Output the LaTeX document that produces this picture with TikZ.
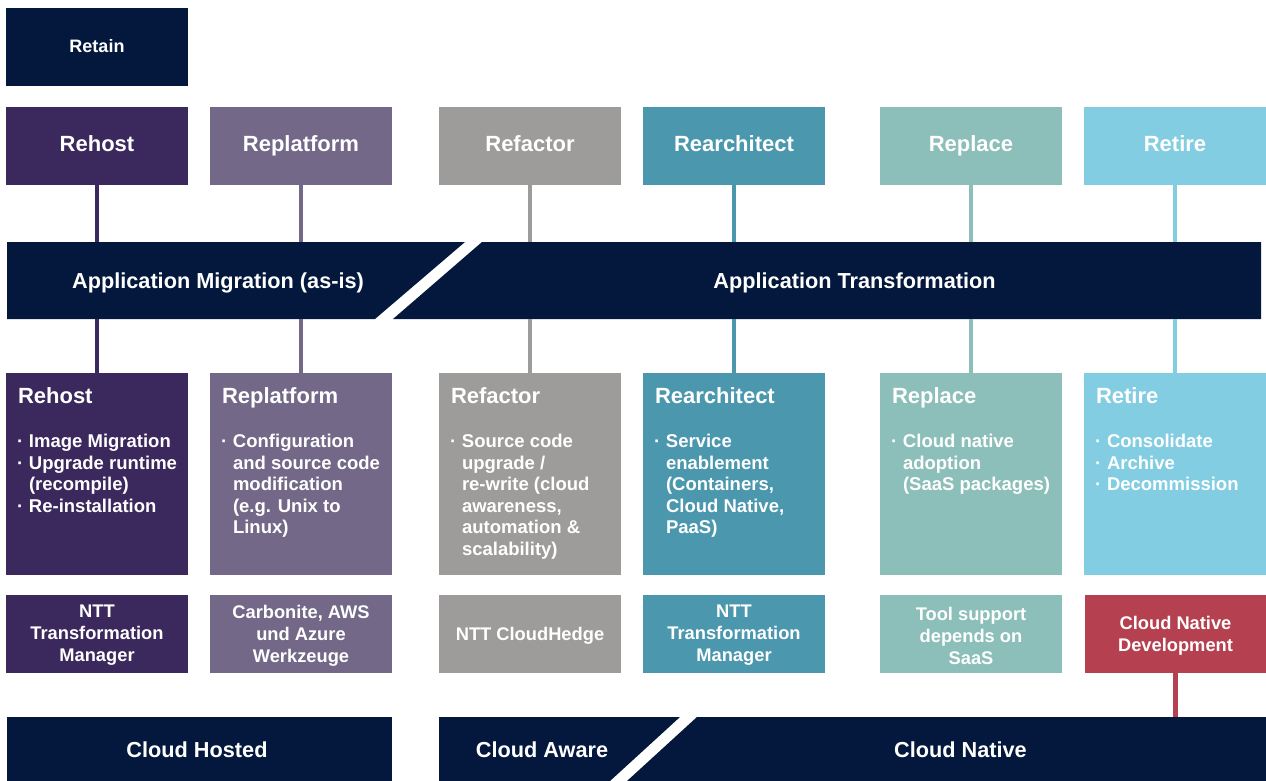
\documentclass[tikz,border=0pt]{standalone}
\usepackage{fontspec}
\setmainfont{Liberation Sans}
\usetikzlibrary{calc}
\definecolor{navy}{RGB}{3,24,60}
\definecolor{cA}{RGB}{59,40,92}
\definecolor{cB}{RGB}{115,104,136}
\definecolor{cC}{RGB}{157,156,154}
\definecolor{cD}{RGB}{75,151,174}
\definecolor{cE}{RGB}{140,191,185}
\definecolor{cF}{RGB}{131,205,227}
\definecolor{cRed}{RGB}{181,65,80}
\newcommand\bulitem{\makebox[12pt][l]{·}}
\newcommand\bulind{\hspace*{12pt}}
\begin{document}
\begin{tikzpicture}[x=1pt,y=-1pt,
  box/.style={rectangle, inner sep=0pt, minimum width=182pt, minimum height=78pt, text=white, font=\bfseries\fontsize{22}{26}\selectfont, align=center, text height=15.2pt, text depth=3.8pt},
  detail/.style={rectangle, inner sep=0pt, minimum width=182pt, minimum height=202pt},
  tool/.style={rectangle, inner sep=0pt, minimum width=182pt, minimum height=78pt},
  tooltext/.style={inner sep=0pt, text=white, align=center, font=\bfseries\fontsize{18.3}{22}\selectfont},
  dtitle/.style={anchor=base west, inner sep=0pt, text=white, font=\bfseries\fontsize{22}{26}\selectfont},
  dtext/.style={anchor=north west, inner sep=0pt, text=white, align=left, font=\bfseries\fontsize{18.5}{21.5}\selectfont},
  conn/.style={line width=4.5pt},
  bandtext/.style={text=white, inner sep=0pt, font=\bfseries\fontsize{21.7}{26}\selectfont, text height=15.6pt, text depth=0pt}
]
\useasboundingbox (0,0) rectangle (1266,781);

% Retain
\node[box, fill=navy, font=\bfseries\fontsize{18}{22}\selectfont, text height=13.5pt, text depth=3pt] (retain) at (97,47) {Retain};

% top boxes
\node[box, fill=cA] (t1) at (97,146) {Rehost};
\node[box, fill=cB] (t2) at (301,146) {Replatform};
\node[box, fill=cC] (t3) at (530,146) {Refactor};
\node[box, fill=cD] (t4) at (734,146) {Rearchitect};
\node[box, fill=cE] (t5) at (971,146) {Replace};
\node[box, fill=cF] (t6) at (1175,146) {Retire};

% band
\node[rectangle, inner sep=0pt, minimum width=1254pt, minimum height=77pt] (band) at (634,280.5) {};
\fill[navy] (7,242) -- (465,242) -- (375,319) -- (7,319) -- cycle;
\fill[navy] (482,242) -- (1261,242) -- (1261,319) -- (393,319) -- cycle;
\node[bandtext] (bandL) at (218,280.5) {Application Migration (as-is)};
\node[bandtext] (bandR) at (854.5,280.5) {Application Transformation};

% detail boxes
\node[detail, fill=cA] (d1) at (97,474) {};
\node[detail, fill=cB] (d2) at (301,474) {};
\node[detail, fill=cC] (d3) at (530,474) {};
\node[detail, fill=cD] (d4) at (734,474) {};
\node[detail, fill=cE] (d5) at (971,474) {};
\node[detail, fill=cF] (d6) at (1175,474) {};

\node[dtitle] (d1h) at ($(d1.north west)+(12,30.5)$) {Rehost};
\node[dtitle] (d2h) at ($(d2.north west)+(12,30.5)$) {Replatform};
\node[dtitle] (d3h) at ($(d3.north west)+(12,30.5)$) {Refactor};
\node[dtitle] (d4h) at ($(d4.north west)+(12,30.5)$) {Rearchitect};
\node[dtitle] (d5h) at ($(d5.north west)+(12,30.5)$) {Replace};
\node[dtitle] (d6h) at ($(d6.north west)+(12,30.5)$) {Retire};

\node[dtext] (d1b) at ($(d1.north west)+(11,59.5)$) {\strut\bulitem Image Migration\\\bulitem Upgrade runtime\\\bulind (recompile)\\\bulitem Re-installation};
\node[dtext] (d2b) at ($(d2.north west)+(11,59.5)$) {\strut\bulitem Configuration\\\bulind and source code\\\bulind modification\\\bulind (e.g. Unix to\\\bulind Linux)};
\node[dtext] (d3b) at ($(d3.north west)+(11,59.5)$) {\strut\bulitem Source code\\\bulind upgrade /\\\bulind re-write (cloud\\\bulind awareness,\\\bulind automation \&\\\bulind scalability)};
\node[dtext] (d4b) at ($(d4.north west)+(11,59.5)$) {\strut\bulitem Service\\\bulind enablement\\\bulind (Containers,\\\bulind Cloud Native,\\\bulind PaaS)};
\node[dtext] (d5b) at ($(d5.north west)+(11,59.5)$) {\strut\bulitem Cloud native\\\bulind adoption\\\bulind (SaaS packages)};
\node[dtext] (d6b) at ($(d6.north west)+(11,59.5)$) {\strut\bulitem Consolidate\\\bulitem Archive\\\bulitem Decommission};

% tool boxes
\node[tool, fill=cA] (w1) at (97,634) {};
\node[tool, fill=cB] (w2) at (301,634) {};
\node[tool, fill=cC] (w3) at (530,634) {};
\node[tool, fill=cD] (w4) at (734,634) {};
\node[tool, fill=cE] (w5) at (971,634) {};
\node[tool, fill=cRed] (w6) at (1175.5,634) {};
\node[tooltext] (w1t) at ($(w1.center)+(0,1.5)$) {NTT\\Transformation\\Manager};
\node[tooltext] (w2t) at ($(w2.center)+(0,1.5)$) {Carbonite, AWS\\und Azure\\Werkzeuge};
\node[tooltext] (w3t) at ($(w3.center)+(0,1.5)$) {NTT CloudHedge};
\node[tooltext] (w4t) at ($(w4.center)+(0,1.5)$) {NTT\\Transformation\\Manager};
\node[tooltext] (w5t) at ($(w5.center)+(0,1.5)$) {Tool support\\depends on\\SaaS};
\node[tooltext] (w6t) at ($(w6.center)+(0,1.5)$) {Cloud Native\\Development};

% connectors
\foreach \i/\c in {1/cA,2/cB,3/cC,4/cD,5/cE,6/cF}{
  \draw[conn, \c] (t\i.south) -- (t\i.south |- band.north);
  \draw[conn, \c] (band.south -| d\i.north) -- (d\i.north);
}

% bottom band
\fill[navy] (7,717) rectangle (392,781);
\fill[navy] (439,717) -- (680,717) -- (610,781) -- (439,781) -- cycle;
\fill[navy] (697,717) -- (1266,717) -- (1266,781) -- (627,781) -- cycle;
\node[bandtext] (hosted) at (197,750) {Cloud Hosted};
\node[bandtext] (aware) at (542,750) {Cloud Aware};
\node[bandtext] (native) at (960.5,750) {Cloud Native};
\coordinate (nativetop) at (1175.5,717);
\draw[conn, cRed] (w6.south) -- (nativetop);
\end{tikzpicture}
\end{document}
